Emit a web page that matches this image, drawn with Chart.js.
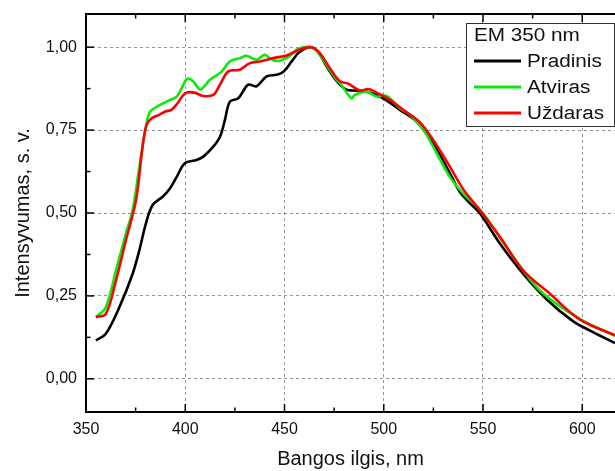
<!DOCTYPE html>
<html>
<head>
<meta charset="utf-8">
<script src="https://cdn.jsdelivr.net/npm/chart.js@4/dist/chart.umd.min.js"></script>
<style>
  html, body { margin: 0; padding: 0; background: #fff; }
  #wrap { width: 615px; height: 471px; position: relative; }
</style>
</head>
<body>
<div id="wrap"><canvas id="c" width="615" height="471"></canvas></div>
<script>
// Emission spectra, excitation 350 nm (normalised intensity)
const pradinisNm = [355, 360, 366.8, 373.5, 376.9, 380.2, 383.6, 388.6, 392.3, 395.7, 399.8, 405.7, 409.1, 414.1, 417.5, 420, 422.5, 426.7, 431.7, 435.9, 441, 446, 449.3, 453.6, 456.9, 461.1, 463.6, 467, 471.2, 476, 481.2, 486, 491.3, 499.7, 508.1, 516.5, 524.9, 533.3, 538.3, 542.5, 548.4, 558.5, 570.2, 582, 595.3, 605.4, 616.5];
const pradinisVal = [0.116, 0.136, 0.216, 0.317, 0.388, 0.469, 0.524, 0.549, 0.574, 0.609, 0.650, 0.660, 0.670, 0.700, 0.730, 0.781, 0.836, 0.846, 0.887, 0.882, 0.912, 0.917, 0.925, 0.957, 0.982, 0.998, 1.000, 0.985, 0.942, 0.900, 0.872, 0.869, 0.866, 0.846, 0.811, 0.776, 0.710, 0.620, 0.564, 0.535, 0.499, 0.408, 0.317, 0.240, 0.174, 0.141, 0.108];

const atvirasNm = [355, 360, 365.1, 370.1, 373.5, 376.9, 380.2, 382.2, 385, 387.3, 392.3, 395.7, 398.5, 401, 404, 407.4, 410, 412.4, 417.5, 419.1, 422.5, 427.5, 431, 435.9, 440, 442.6, 446.5, 451, 454, 457, 463.6, 467, 469.5, 476.2, 477.9, 483.7, 485.4, 491.3, 496.4, 501.4, 508.1, 513.1, 519.9, 524.9, 533.3, 540, 550, 561.8, 578.6, 598.7, 616.5];
const atvirasVal = [0.186, 0.216, 0.327, 0.438, 0.509, 0.640, 0.761, 0.805, 0.818, 0.826, 0.841, 0.851, 0.880, 0.905, 0.897, 0.872, 0.885, 0.902, 0.922, 0.932, 0.957, 0.967, 0.974, 0.962, 0.977, 0.967, 0.958, 0.967, 0.980, 0.995, 1.000, 0.985, 0.962, 0.902, 0.892, 0.846, 0.856, 0.866, 0.851, 0.853, 0.816, 0.796, 0.751, 0.700, 0.609, 0.559, 0.499, 0.398, 0.267, 0.181, 0.130];

const uzdarasNm = [355, 360, 365.1, 370.1, 375.2, 378.5, 380.5, 383, 386.9, 390, 393, 396, 398.5, 400.7, 404.5, 409.1, 414.1, 417.5, 421.7, 427.5, 432.6, 437.6, 444.3, 451.1, 456.5, 463.6, 467.8, 472.8, 477.9, 482.1, 488, 492.2, 496.4, 503.1, 509.8, 518.2, 524.9, 533.3, 540, 548.4, 558.5, 570.2, 583.6, 598.7, 616.5];
const uzdarasVal = [0.186, 0.196, 0.297, 0.418, 0.539, 0.700, 0.766, 0.785, 0.796, 0.806, 0.811, 0.830, 0.852, 0.863, 0.863, 0.853, 0.856, 0.887, 0.927, 0.932, 0.952, 0.957, 0.967, 0.975, 0.990, 1.000, 0.982, 0.937, 0.897, 0.890, 0.869, 0.874, 0.863, 0.841, 0.811, 0.773, 0.720, 0.640, 0.572, 0.509, 0.428, 0.327, 0.257, 0.179, 0.131];

const xMajorTicks = [350, 400, 450, 500, 550, 600];
const xMinorTicks = [375, 425, 475, 525, 575];
const yMajorTicks = [0, 0.25, 0.5, 0.75, 1.0];
const yMinorTicks = [0.125, 0.375, 0.625, 0.875];

const legendTitle = 'EM 350 nm';
const FONT = "'Liberation Sans', Arial, sans-serif";

const pairs = (xs, ys) => xs.map((x, i) => ({ x: x, y: ys[i] }));

// Inward tick marks and the black frame of the plot box
const framePlugin = {
  id: 'frame',
  afterDatasetsDraw(chart) {
    const { ctx, chartArea: a, scales } = chart;
    const xs = scales.x, ys = scales.y;
    ctx.save();
    ctx.strokeStyle = '#000';
    ctx.lineWidth = 1.5;
    const tick = (x1, y1, x2, y2) => { ctx.beginPath(); ctx.moveTo(x1, y1); ctx.lineTo(x2, y2); ctx.stroke(); };
    xMajorTicks.forEach(v => { const p = xs.getPixelForValue(v); tick(p, a.bottom, p, a.bottom - 8); tick(p, a.top, p, a.top + 8); });
    xMinorTicks.forEach(v => { const p = xs.getPixelForValue(v); tick(p, a.bottom, p, a.bottom - 4.5); tick(p, a.top, p, a.top + 4.5); });
    yMajorTicks.forEach(v => { const p = ys.getPixelForValue(v); tick(a.left, p, a.left + 8, p); });
    yMinorTicks.forEach(v => { const p = ys.getPixelForValue(v); tick(a.left, p, a.left + 4.5, p); });
    ctx.lineWidth = 2;
    ctx.beginPath();
    ctx.moveTo(a.right + 2, a.top);
    ctx.lineTo(a.left, a.top);
    ctx.lineTo(a.left, a.bottom);
    ctx.lineTo(a.right + 2, a.bottom);
    ctx.stroke();
    ctx.restore();
  }
};

// Boxed legend in the upper right corner
const boxLegend = {
  id: 'boxLegend',
  afterDraw(chart) {
    const { ctx } = chart;
    const bx = 466.5, by = 23.5, bw = 148, bh = 103;
    ctx.save();
    ctx.fillStyle = '#fff';
    ctx.fillRect(bx, by, bw, bh);
    ctx.strokeStyle = '#333';
    ctx.lineWidth = 1;
    ctx.strokeRect(bx, by, bw, bh);
    ctx.fillStyle = '#111';
    ctx.textBaseline = 'middle';
    ctx.font = '18px ' + FONT;
    const stretchText = (txt, x, y) => {
      ctx.save(); ctx.translate(x, y); ctx.scale(1.15, 1); ctx.fillText(txt, 0, 0); ctx.restore();
    };
    stretchText(legendTitle, 474, 36);
    const rows = [61, 87, 113];
    chart.data.datasets.forEach((ds, i) => {
      ctx.strokeStyle = ds.borderColor;
      ctx.lineWidth = 3;
      ctx.beginPath();
      ctx.moveTo(474, rows[i]);
      ctx.lineTo(521, rows[i]);
      ctx.stroke();
      ctx.fillStyle = '#111';
      stretchText(ds.label, 527, rows[i] + 1);
    });
    ctx.restore();
  }
};

const gridStyle = { color: 'rgba(0,0,0,0.42)', lineWidth: 1, drawTicks: false };

new Chart(document.getElementById('c'), {
  type: 'line',
  data: {
    datasets: [
      { label: 'Pradinis', data: pairs(pradinisNm, pradinisVal), borderColor: '#000000', order: 2 },
      { label: 'Atviras', data: pairs(atvirasNm, atvirasVal), borderColor: '#0aeb0a', order: 1 },
      { label: 'Uždaras', data: pairs(uzdarasNm, uzdarasVal), borderColor: '#ff0000', order: 0 }
    ]
  },
  options: {
    responsive: false,
    animation: false,
    layout: { padding: { top: 14, right: 0, left: 0, bottom: 0 } },
    elements: {
      line: { borderWidth: 2.6, tension: 0.35, fill: false },
      point: { radius: 0 }
    },
    plugins: { legend: { display: false }, tooltip: { enabled: false } },
    scales: {
      x: {
        type: 'linear',
        min: 350,
        max: 616.5,
        afterBuildTicks: s => { s.ticks = xMajorTicks.map(v => ({ value: v })); },
        afterFit: s => { s.height = 59; s.paddingLeft = 0; s.paddingRight = 0; },
        grid: gridStyle,
        border: { display: false, dash: [3, 3] },
        ticks: { padding: 8, color: '#111', font: { family: FONT, size: 16 }, callback: v => String(v) },
        title: { display: true, text: 'Bangos ilgis, nm', color: '#111', font: { family: FONT, size: 20 }, padding: { top: 0, bottom: 0 } }
      },
      y: {
        type: 'linear',
        min: -0.1,
        max: 1.1,
        afterBuildTicks: s => { s.ticks = yMajorTicks.map(v => ({ value: v })); },
        afterFit: s => { s.width = 86; s.paddingTop = 0; s.paddingBottom = 0; },
        grid: gridStyle,
        border: { display: false, dash: [3, 3] },
        ticks: { padding: 9, color: '#111', font: { family: FONT, size: 16 }, callback: v => v.toFixed(2).replace('.', ',') },
        title: { display: true, text: 'Intensyvumas, s. v.', color: '#111', font: { family: FONT, size: 20 }, padding: { top: 11, bottom: 0 } }
      }
    }
  },
  plugins: [framePlugin, boxLegend]
});
</script>
</body>
</html>
